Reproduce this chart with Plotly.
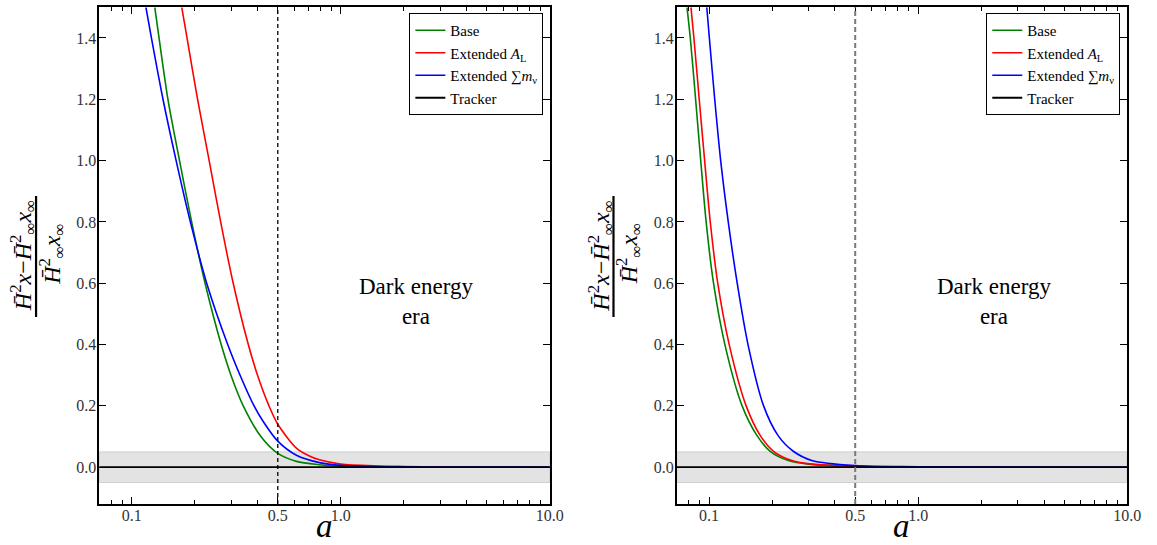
import numpy as np
import plotly.graph_objects as go

# ---------------- data ----------------
# Left panel
L_base_a = [0.1290, 0.1352, 0.1491, 0.1694, 0.1936, 0.2245, 0.2681, 0.2985, 0.3418, 0.4150, 0.500, 0.614, 0.790, 1.00, 1.5, 2.0, 3.0, 5.0, 10.0]
L_base_y = [1.50, 1.40, 1.20, 1.00, 0.80, 0.60, 0.40, 0.30, 0.20, 0.10, 0.045, 0.019, 0.008, 0.003, 0.0012, 0.0007, 0.0003, 0.0001, 0.0]

L_AL_a = [0.1736, 0.1840, 0.2067, 0.2348, 0.2665, 0.3060, 0.3614, 0.4000, 0.4538, 0.500, 0.614, 0.700, 0.791, 1.00, 1.5, 2.0, 3.0, 5.0, 10.0]
L_AL_y = [1.50, 1.40, 1.20, 1.00, 0.80, 0.60, 0.40, 0.30, 0.20, 0.140, 0.062, 0.038, 0.024, 0.010, 0.004, 0.0025, 0.0012, 0.0005, 0.0]

L_mnu_a = [0.1170, 0.1243, 0.1412, 0.1632, 0.1909, 0.2285, 0.2880, 0.3300, 0.3850, 0.4250, 0.500, 0.614, 0.791, 1.00, 1.5, 2.0, 3.0, 5.0, 10.0]
L_mnu_y = [1.50, 1.40, 1.20, 1.00, 0.80, 0.60, 0.40, 0.30, 0.20, 0.15, 0.085, 0.039, 0.015, 0.006, 0.002, 0.0012, 0.0005, 0.0002, 0.0]

# Right panel
R_base_a = [0.0784, 0.0813, 0.0862, 0.0912, 0.0968, 0.1050, 0.1190, 0.1439, 0.1696, 0.1960, 0.2394, 0.300, 0.500, 1.00, 10.0]
R_base_y = [1.50, 1.40, 1.20, 1.00, 0.80, 0.60, 0.40, 0.20, 0.103, 0.052, 0.022, 0.010, 0.002, 0.0005, 0.0]

R_AL_a = [0.0819, 0.0846, 0.0897, 0.0952, 0.1013, 0.1100, 0.1248, 0.1504, 0.1758, 0.2033, 0.2485, 0.310, 0.500, 1.00, 10.0]
R_AL_y = [1.50, 1.40, 1.20, 1.00, 0.80, 0.60, 0.40, 0.20, 0.103, 0.052, 0.022, 0.010, 0.003, 0.0008, 0.0]

R_mnu_a = [0.0975, 0.1003, 0.1064, 0.1136, 0.1235, 0.1363, 0.1535, 0.1823, 0.2139, 0.2528, 0.3100, 0.500, 1.00, 10.0]
R_mnu_y = [1.50, 1.40, 1.20, 1.00, 0.80, 0.60, 0.40, 0.20, 0.103, 0.052, 0.022, 0.005, 0.0015, 0.0]

tracker_a = [0.07, 10.0]
tracker_y = [0.0, 0.0]

band_half_width = 0.05
a_transition = 0.5

x_tickvals = [0.1, 0.5, 1.0, 10.0]
x_ticktext = ["0.1", "0.5", "1.0", "10.0"]
x_minor = [0.08, 0.09, 0.2, 0.3, 0.4, 0.6, 0.7, 0.8, 0.9, 2, 3, 4, 5, 6, 7, 8, 9]
y_tickvals = [0.0, 0.2, 0.4, 0.6, 0.8, 1.0, 1.2, 1.4]
y_ticktext = ["0.0", "0.2", "0.4", "0.6", "0.8", "1.0", "1.2", "1.4"]

names = ["Base", "Extended <i>A</i><sub>L</sub>", "Extended \u2211<i>m</i><sub>\u03bd</sub>", "Tracker"]
colors = ["green", "red", "blue", "black"]

# ---------------- figure ----------------
W, H = 1157, 545
SERIF = "Liberation Serif, DejaVu Serif, serif"

fig = go.Figure()

panels = [
    ("x", "y", "legend", [(L_base_a, L_base_y), (L_AL_a, L_AL_y), (L_mnu_a, L_mnu_y)],
     dict(color="black", width=1.3, dash="4px,3px")),
    ("x2", "y2", "legend2", [(R_base_a, R_base_y), (R_AL_a, R_AL_y), (R_mnu_a, R_mnu_y)],
     dict(color="#7a7a7a", width=2, dash="5px,3px")),
]

for xa, ya, lg, series, dline in panels:
    # shaded tolerance band
    fig.add_shape(type="rect", xref=f"{xa} domain", yref=ya, x0=0, x1=1,
                  y0=-band_half_width, y1=band_half_width,
                  fillcolor="#e3e3e3", line=dict(color="#cfcfcf", width=1), layer="below")
    for (a, v), nm, c in zip(series, names[:3], colors[:3]):
        fig.add_trace(go.Scatter(x=a, y=v, mode="lines", name=nm, xaxis=xa, yaxis=ya,
                                 legend=lg, line=dict(color=c, width=1.6, shape="spline", smoothing=0.8)))
    fig.add_trace(go.Scatter(x=tracker_a, y=tracker_y, mode="lines", name=names[3], xaxis=xa, yaxis=ya,
                             legend=lg, line=dict(color="black", width=1.8)))
    # transition line
    fig.add_shape(type="line", xref=xa, yref=f"{ya} domain", x0=a_transition, x1=a_transition,
                  y0=0, y1=1, line=dline, layer="above")

left_dom = [100.5 / W, 556.5 / W]
right_dom = [685 / W, 1141 / W]
y_dom = [1 - 504 / H, 1 - 7.3 / H]

xcommon = dict(type="log", range=[np.log10(0.07), 1.0], tickvals=x_tickvals, ticktext=x_ticktext,
               ticks="inside", ticklen=7, tickwidth=1.2, tickcolor="black",
               minor=dict(tickvals=x_minor, ticks="inside", ticklen=4, tickwidth=1.2, tickcolor="black"),
               showline=True, linecolor="black", linewidth=1.6, mirror="allticks",
               showgrid=False, zeroline=False, ticklabelstandoff=-4,
               tickfont=dict(family=SERIF, size=16, color="#333333"))
ycommon = dict(range=[-0.12, 1.5], tickvals=y_tickvals, ticktext=y_ticktext,
               ticks="inside", ticklen=7, tickwidth=1.2, tickcolor="black",
               showline=True, linecolor="black", linewidth=1.6, mirror="allticks",
               showgrid=False, zeroline=False, ticklabelstandoff=-2,
               tickfont=dict(family=SERIF, size=16, color="#333333"))

legcommon = dict(bordercolor="black", borderwidth=1, bgcolor="white",
                 font=dict(family=SERIF, size=15, color="black"),
                 xanchor="right", yanchor="top", tracegroupgap=0, itemwidth=30)

fig.update_layout(
    width=W, height=H,
    margin=dict(l=0, r=0, t=0, b=0),
    paper_bgcolor="white", plot_bgcolor="white",
    xaxis=dict(domain=left_dom, anchor="y", **xcommon),
    yaxis=dict(domain=y_dom, anchor="x", **ycommon),
    xaxis2=dict(domain=right_dom, anchor="y2", **xcommon),
    yaxis2=dict(domain=y_dom, anchor="x2", **ycommon),
    legend=dict(x=550 / W, y=1 - 13 / H, **legcommon),
    legend2=dict(x=1134 / W, y=1 - 13 / H, **legcommon),
    showlegend=True,
)

num_txt = "<i>H\u0304</i><sup>2</sup><i>x</i>\u2212<i>H\u0304</i><sup>2</sup><sub>\u221e</sub><i>x</i><sub>\u221e</sub>"
den_txt = "<i>H\u0304</i><sup>2</sup><sub>\u221e</sub><i>x</i><sub>\u221e</sub>"

for xa, ya, plot_left, plot_center in [("x", "y", 100.5, 328.5), ("x2", "y2", 685, 913)]:
    bar_x = plot_left - 64
    fig.add_annotation(text=num_txt, xref="paper", yref="paper", x=(bar_x - 13) / W, y=1 - 256 / H,
                       textangle=-90, showarrow=False, xanchor="center", yanchor="middle",
                       font=dict(family=SERIF, size=24, color="black"))
    fig.add_annotation(text=den_txt, xref="paper", yref="paper", x=(bar_x + 16) / W, y=1 - 254 / H,
                       textangle=-90, showarrow=False, xanchor="center", yanchor="middle",
                       font=dict(family=SERIF, size=24, color="black"))
    fig.add_shape(type="line", xref="paper", yref="paper", x0=bar_x / W, x1=bar_x / W,
                  y0=1 - 196 / H, y1=1 - 317 / H, line=dict(color="black", width=2.2))
    fig.add_annotation(text="<i>a</i>", xref="paper", yref="paper", x=plot_center / W, y=1 - 526 / H,
                       showarrow=False, xanchor="center", yanchor="middle",
                       font=dict(family=SERIF, size=33, color="black"))
    fig.add_annotation(text="Dark energy<br>era", xref=xa, yref=ya, x=np.log10(2.3), y=0.54,
                       showarrow=False, xanchor="center", yanchor="middle",
                       font=dict(family=SERIF, size=23, color="black"))

fig.write_html("out.html")
